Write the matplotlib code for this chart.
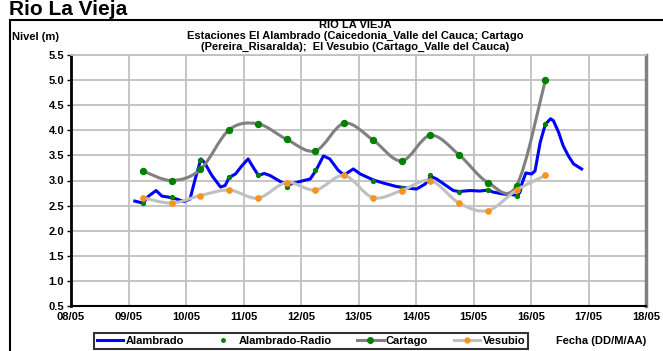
import matplotlib

matplotlib.use("Agg")
import matplotlib.pyplot as plt
import numpy as np
from matplotlib.path import Path
from matplotlib.patches import PathPatch, Rectangle
from matplotlib.lines import Line2D

plt.rcParams["font.family"] = ["Liberation Sans", "DejaVu Sans"]
plt.rcParams["font.weight"] = "bold"

# Alambrado (continuous record), day of May
alambrado_day = [9.11, 9.25, 9.35, 9.48, 9.58, 9.69, 9.84, 9.96, 10.07, 10.16,
                 10.26, 10.32, 10.45, 10.60, 10.68, 10.75, 10.86, 10.97, 11.08, 11.17,
                 11.26, 11.36, 11.46, 11.64, 11.77, 11.98, 12.16, 12.26, 12.39, 12.50,
                 12.65, 12.75, 12.91, 13.03, 13.26, 13.43, 13.66, 13.84, 14.01, 14.16,
                 14.26, 14.36, 14.51, 14.65, 14.75, 14.94, 15.11, 15.26, 15.34, 15.52,
                 15.66, 15.76, 15.81, 15.84, 15.91, 16.01, 16.07, 16.16, 16.25, 16.34,
                 16.39, 16.48, 16.56, 16.65, 16.74, 16.88]
alambrado_level = [2.59, 2.55, 2.69, 2.80, 2.69, 2.67, 2.63, 2.58, 2.63, 3.03,
                   3.43, 3.36, 3.10, 2.87, 2.90, 3.06, 3.13, 3.29, 3.43, 3.26,
                   3.10, 3.14, 3.10, 2.98, 2.91, 2.98, 3.03, 3.20, 3.49, 3.43,
                   3.20, 3.11, 3.23, 3.13, 3.01, 2.95, 2.88, 2.85, 2.83, 2.93,
                   3.08, 3.03, 2.91, 2.80, 2.78, 2.80, 2.79, 2.81, 2.77, 2.73,
                   2.72, 2.70, 2.77, 2.93, 3.15, 3.13, 3.19, 3.76, 4.12, 4.23,
                   4.19, 3.96, 3.69, 3.49, 3.33, 3.23]

# twice-daily readings (06:00 / 18:00)
reading_day = [9.25, 9.75, 10.25, 10.75, 11.25, 11.75, 12.25, 12.75,
               13.25, 13.75, 14.25, 14.75, 15.25, 15.75, 16.25]
radio_level = [2.56, 2.67, 3.40, 3.07, 3.10, 2.88, 3.20, 3.10,
               3.00, 2.85, 3.10, 2.77, 2.81, 2.69, 4.12]
cartago_level = [3.19, 3.00, 3.22, 4.01, 4.13, 3.82, 3.59, 4.14,
                 3.81, 3.39, 3.90, 3.51, 2.96, 2.90, 5.00]
vesubio_level = [2.66, 2.55, 2.70, 2.81, 2.65, 2.96, 2.81, 3.10,
                 2.66, 2.80, 3.00, 2.55, 2.40, 2.81, 3.10]

tick_days = list(range(8, 19))
tick_labels = ["%02d/05" % d for d in tick_days]


def smooth_path(x, y):
    # Excel-style smoothed line (Catmull-Rom as cubic Bezier)
    pts = np.column_stack([x, y])
    verts = [pts[0]]
    codes = [Path.MOVETO]
    n = len(pts)
    for i in range(n - 1):
        p0 = pts[max(i - 1, 0)]
        p1 = pts[i]
        p2 = pts[i + 1]
        p3 = pts[min(i + 2, n - 1)]
        verts += [p1 + (p2 - p0) / 6, p2 - (p3 - p1) / 6, p2]
        codes += [Path.CURVE4] * 3
    return Path(verts, codes)


W, H = 663, 351
fig = plt.figure(figsize=(W / 100, H / 100), dpi=100)
ax = fig.add_axes([71 / W, 1 - 306 / H, 575 / W, 251 / H])

# outer chart frame
fig.patches.append(Rectangle((10 / W, -0.1), 1.0, 1 - 20 / H + 0.1, transform=fig.transFigure,
                             fill=False, edgecolor="black", linewidth=1.5, zorder=0))
fig.text(9 / W, 1 - 15 / H, "Rio La Vieja", fontsize=15, fontweight="bold", va="baseline")

lw = 2.2
ax.plot(alambrado_day, alambrado_level, color="#0000ff", linewidth=lw,
        solid_joinstyle="round", zorder=3)
ax.plot(reading_day, radio_level, linestyle="none", marker="o", markersize=2.8,
        color="#008000", zorder=4)
ax.add_patch(PathPatch(smooth_path(reading_day, cartago_level), fill=False,
                       edgecolor="#808080", linewidth=lw, zorder=5))
ax.plot(reading_day, cartago_level, linestyle="none", marker="o", markersize=4.3,
        color="#008000", zorder=6)
ax.add_patch(PathPatch(smooth_path(reading_day, vesubio_level), fill=False,
                       edgecolor="#c0c0c0", linewidth=lw, zorder=7))
ax.plot(reading_day, vesubio_level, linestyle="none", marker="o", markersize=3.8,
        color="#f7941d", zorder=8)

ax.set_xlim(8, 18)
ax.set_ylim(0.5, 5.5)
ax.set_xticks(tick_days)
ax.set_xticklabels(tick_labels)
ax.set_yticks(np.arange(0.5, 5.51, 0.5))
ax.yaxis.set_major_formatter(matplotlib.ticker.FormatStrFormatter("%.1f"))
ax.grid(True, color="#c0c0c0", linewidth=1.3)
ax.set_axisbelow(True)
ax.tick_params(labelsize=8, length=3, width=1, pad=2)
ax.tick_params(axis="x", length=0, pad=4)
ax.spines["top"].set_color("#c0c0c0")
ax.spines["top"].set_linewidth(1.3)
ax.spines["right"].set_color("#808080")
ax.spines["right"].set_linewidth(2.5)
ax.spines["left"].set_linewidth(2)
ax.spines["bottom"].set_linewidth(1.5)

fig.text(355 / W, 1 - 25 / H, "RIO LA VIEJA", ha="center", va="center", fontsize=8)
fig.text(355 / W, 1 - 36 / H, "Estaciones El Alambrado (Caicedonia_Valle del Cauca; Cartago",
         ha="center", va="center", fontsize=8)
fig.text(355 / W, 1 - 47 / H, "(Pereira_Risaralda);  El Vesubio (Cartago_Valle del Cauca)",
         ha="center", va="center", fontsize=8)
fig.text(12 / W, 1 - 37 / H, "Nivel (m)", ha="left", va="center", fontsize=8)
fig.text(556 / W, 1 - 341 / H, "Fecha (DD/M/AA)", ha="left", va="center", fontsize=8)

handles = [
    Line2D([], [], color="#0000ff", linewidth=lw),
    Line2D([], [], linestyle="none", marker="o", markersize=2.5, color="#008000"),
    Line2D([], [], color="#808080", linewidth=lw, marker="o", markersize=4,
           markerfacecolor="#008000", markeredgecolor="#008000"),
    Line2D([], [], color="#c0c0c0", linewidth=lw, marker="o", markersize=3.5,
           markerfacecolor="#f7941d", markeredgecolor="#f7941d"),
]
leg = fig.legend(handles, ["Alambrado", "Alambrado-Radio", "Cartago", "Vesubio"],
                 loc="center", bbox_to_anchor=(311 / W, 1 - 341 / H), ncol=4,
                 fontsize=8, frameon=True, fancybox=False, handlelength=2.4,
                 handletextpad=0.2, columnspacing=2.3, borderpad=0.25,
                 borderaxespad=0)
leg.get_frame().set_edgecolor("black")
leg.get_frame().set_linewidth(1.5)

fig.savefig("out.png", dpi=100)
